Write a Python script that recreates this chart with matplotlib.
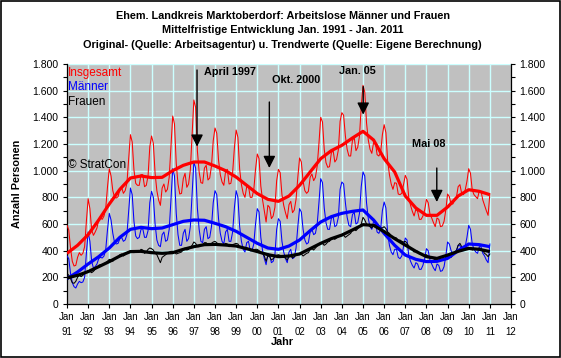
import numpy as np
import matplotlib.pyplot as plt
from matplotlib.patches import Rectangle
from matplotlib.ticker import MultipleLocator, FuncFormatter

plt.rcParams['font.family'] = ['Liberation Sans', 'DejaVu Sans']

# Monatswerte Jan. 1991 - Jan. 2011
maenner = [
    360, 340, 230, 160, 130, 120, 150, 170, 160, 165, 200, 380,    # 1991
    540, 470, 320, 270, 280, 300, 340, 350, 345, 360, 410, 560,    # 1992
    680, 630, 530, 460, 450, 455, 490, 500, 470, 480, 520, 700,    # 1993
    870, 820, 620, 510, 490, 500, 560, 565, 500, 500, 550, 760,    # 1994
    845, 800, 600, 480, 440, 430, 520, 540, 470, 480, 560, 780,    # 1995
    1015, 960, 680, 520, 440, 440, 530, 560, 470, 490, 580, 820,   # 1996
    1065, 1020, 720, 560, 470, 460, 560, 580, 490, 500, 580, 760,  # 1997
    850, 820, 640, 530, 470, 450, 540, 560, 470, 470, 540, 720,    # 1998
    850, 800, 580, 470, 410, 390, 460, 470, 400, 400, 450, 600,    # 1999
    715, 690, 500, 400, 340, 295, 380, 370, 310, 320, 370, 560,    # 2000
    640, 620, 470, 390, 340, 310, 390, 410, 340, 350, 420, 580,    # 2001
    715, 690, 560, 480, 450, 460, 540, 560, 520, 530, 600, 760,    # 2002
    940, 910, 720, 610, 560, 560, 640, 660, 580, 590, 650, 860,    # 2003
    915, 900, 760, 650, 590, 580, 670, 690, 600, 610, 680, 880,    # 2004
    990, 960, 760, 640, 580, 560, 620, 620, 540, 530, 560, 700,    # 2005
    765, 720, 530, 440, 390, 370, 410, 410, 350, 340, 360, 430,    # 2006
    495, 480, 360, 320, 290, 270, 310, 300, 260, 260, 290, 340,    # 2007
    415, 400, 330, 300, 270, 250, 300, 290, 245, 250, 280, 360,    # 2008
    465, 450, 400, 380, 390, 400, 440, 440, 400, 400, 430, 500,    # 2009
    590, 560, 450, 410, 390, 380, 430, 430, 380, 360, 330, 310,    # 2010
    450,                                                           # Jan 2011
]

frauen = [
    230, 215, 190, 160, 155, 170, 200, 215, 205, 215, 230, 240,    # 1991
    250, 245, 235, 245, 260, 270, 290, 295, 290, 300, 310, 320,    # 1992
    335, 330, 320, 340, 345, 350, 370, 375, 360, 370, 385, 390,    # 1993
    400, 395, 385, 395, 400, 390, 410, 405, 380, 390, 410, 420,    # 1994
    415, 405, 380, 370, 340, 310, 350, 360, 370, 380, 390, 395,    # 1995
    395, 390, 375, 380, 385, 390, 410, 420, 405, 410, 425, 440,    # 1996
    465, 455, 430, 430, 440, 445, 460, 460, 440, 445, 455, 465,    # 1997
    470, 460, 440, 440, 445, 440, 455, 450, 430, 435, 445, 450,    # 1998
    455, 450, 430, 425, 420, 410, 420, 415, 400, 400, 405, 410,    # 1999
    410, 400, 385, 380, 360, 320, 360, 355, 330, 340, 355, 365,    # 2000
    370, 365, 350, 350, 345, 330, 355, 360, 345, 355, 365, 370,    # 2001
    380, 375, 360, 370, 380, 385, 410, 415, 405, 420, 435, 445,    # 2002
    460, 455, 440, 450, 465, 470, 490, 495, 485, 495, 505, 510,    # 2003
    520, 515, 500, 510, 520, 530, 555, 560, 550, 565, 580, 600,    # 2004
    650, 630, 600, 590, 580, 570, 590, 595, 580, 580, 575, 570,    # 2005
    580, 565, 540, 530, 510, 490, 500, 495, 475, 480, 470, 465,    # 2006
    470, 455, 435, 420, 405, 390, 400, 395, 375, 375, 370, 365,    # 2007
    370, 360, 345, 345, 340, 330, 345, 345, 335, 335, 340, 345,    # 2008
    360, 355, 350, 370, 390, 400, 440, 455, 430, 420, 425, 420,    # 2009
    425, 420, 405, 410, 415, 410, 420, 415, 400, 380, 370, 355,    # 2010
    375,                                                           # Jan 2011
]

# Trendwerte, halbjaehrlich (Jan./Jul.) 1991 - Jan. 2011
trend_gesamt = [380, 440, 520, 630, 750, 860, 945, 960, 948, 950,
                1000, 1040, 1065, 1065, 1035, 1000, 952, 890, 828, 785,
                770, 810, 890, 990, 1090, 1150, 1190, 1245, 1295, 1230,
                1090, 990, 810, 720, 665, 665, 727, 810, 857, 845, 820]
trend_maenner = [190, 240, 300, 355, 420, 500, 560, 575, 565, 570,
                 595, 620, 630, 628, 605, 580, 545, 500, 455, 420,
                 410, 435, 480, 550, 615, 655, 680, 695, 705, 630,
                 530, 440, 367, 335, 318, 320, 342, 400, 450, 445, 430]
trend_frauen = [195, 215, 243, 280, 318, 360, 393, 395, 385, 380,
                385, 410, 430, 445, 447, 442, 435, 415, 393, 370,
                355, 360, 375, 415, 455, 490, 517, 555, 595, 590,
                543, 490, 442, 395, 355, 342, 367, 395, 417, 410, 393]

jahre = list(range(1991, 2013))
jahr_labels = ['Jan\n%02d' % (j % 100) for j in jahre]

markierungen = [
    # text, text-x, text-y, pfeil-x, pfeil von, pfeil bis
    ('April 1997', 1998.73, 1740, 1997.15, 1755, 1180),
    ('Okt. 2000', 2001.85, 1680, 2000.57, 1515, 1020),
    ('Jan. 05', 2004.74, 1747, 2005.01, 1630, 1420),
    ('Mai 08', 2008.11, 1200, 2008.49, 1020, 765),
]

maenner = np.array(maenner)
frauen = np.array(frauen)
gesamt = maenner + frauen
monate = 1991 + np.arange(len(maenner)) / 12.0
halbjahre = 1991 + 0.5 * np.arange(len(trend_gesamt))

fig = plt.figure(figsize=(5.61, 3.58), dpi=100)
fig.patches.append(Rectangle((0.001, 0.002), 0.997, 0.995, transform=fig.transFigure,
                             fill=False, edgecolor='black', linewidth=1.2))
ax = fig.add_axes([67 / 561, 54 / 358, 444 / 561, 240 / 358])
ax.set_facecolor('#c0c0c0')

grid_col = '#ccffff'
for j in jahre[1:-1]:
    ax.axvline(j, color=grid_col, lw=1, zorder=1)
for v in range(200, 1801, 200):
    ax.axhline(v, color=grid_col, lw=1, zorder=1)

ax.plot(monate, gesamt, color='#ff0000', lw=0.75, zorder=3)
ax.plot(monate, maenner, color='#0000ff', lw=0.75, zorder=3)
ax.plot(monate, frauen, color='black', lw=0.75, zorder=3)
ax.plot(halbjahre, trend_gesamt, color='#ff0000', lw=2.3, zorder=4, solid_capstyle='butt')
ax.plot(halbjahre, trend_maenner, color='#0000ff', lw=2.3, zorder=4, solid_capstyle='butt')
ax.plot(halbjahre, trend_frauen, color='black', lw=2.3, zorder=4, solid_capstyle='butt')

ax.set_xlim(1991, 2012)
ax.set_ylim(0, 1800)
ax.set_xticks(jahre)
ax.set_xticklabels(jahr_labels, fontsize=7, linespacing=1.55)
ax.yaxis.set_major_locator(MultipleLocator(200))
ax.yaxis.set_minor_locator(MultipleLocator(100))
fmt = FuncFormatter(lambda v, p: f'{int(v):,}'.replace(',', '.'))
ax.yaxis.set_major_formatter(fmt)
ax.tick_params(axis='both', which='both', direction='out', length=3, width=0.8, labelsize=7.5, pad=3)
ax.tick_params(axis='x', labelsize=7)
ax.tick_params(axis='y', which='both', right=True, labelright=True)
ax.spines['top'].set_visible(False)
for s in ['left', 'right', 'bottom']:
    ax.spines[s].set_linewidth(0.9)

fig.text(0.504, 0.955, 'Ehem. Landkreis Marktoberdorf: Arbeitslose Männer und Frauen',
         ha='center', va='center', fontsize=7.8, fontweight='bold')
fig.text(0.504, 0.915, 'Mittelfristige Entwicklung Jan. 1991 - Jan. 2011',
         ha='center', va='center', fontsize=7.8, fontweight='bold')
fig.text(0.504, 0.874, 'Original- (Quelle: Arbeitsagentur) u. Trendwerte (Quelle: Eigene Berechnung)',
         ha='center', va='center', fontsize=7.8, fontweight='bold')
fig.text(0.030, 0.486, 'Anzahl Personen', rotation=90, ha='center', va='center',
         fontsize=7.8, fontweight='bold')
fig.text(0.504, 0.045, 'Jahr', ha='center', va='center', fontsize=7.8, fontweight='bold')

ax.text(1991.05, 1735, 'Insgesamt', color='#ff0000', fontsize=8.5, va='center', zorder=6)
ax.text(1991.05, 1625, 'Männer', color='#0000ff', fontsize=8.5, va='center', zorder=6)
ax.text(1991.05, 1512, 'Frauen', color='black', fontsize=8.5, va='center', zorder=6)
ax.text(1991.05, 1045, '© StratCon', color='black', fontsize=8.5, va='center', zorder=6)

for txt, tx, ty, px, y0, y1 in markierungen:
    ax.text(tx, ty, txt, ha='center', va='center', fontsize=7.8, fontweight='bold', zorder=6)
    ax.annotate('', xy=(px, y1), xytext=(px, y0),
                arrowprops=dict(arrowstyle='-|>,head_length=0.6,head_width=0.3',
                                color='black', lw=1, mutation_scale=12,
                                shrinkA=0, shrinkB=0), zorder=6)

fig.savefig('out.png', dpi=100)
